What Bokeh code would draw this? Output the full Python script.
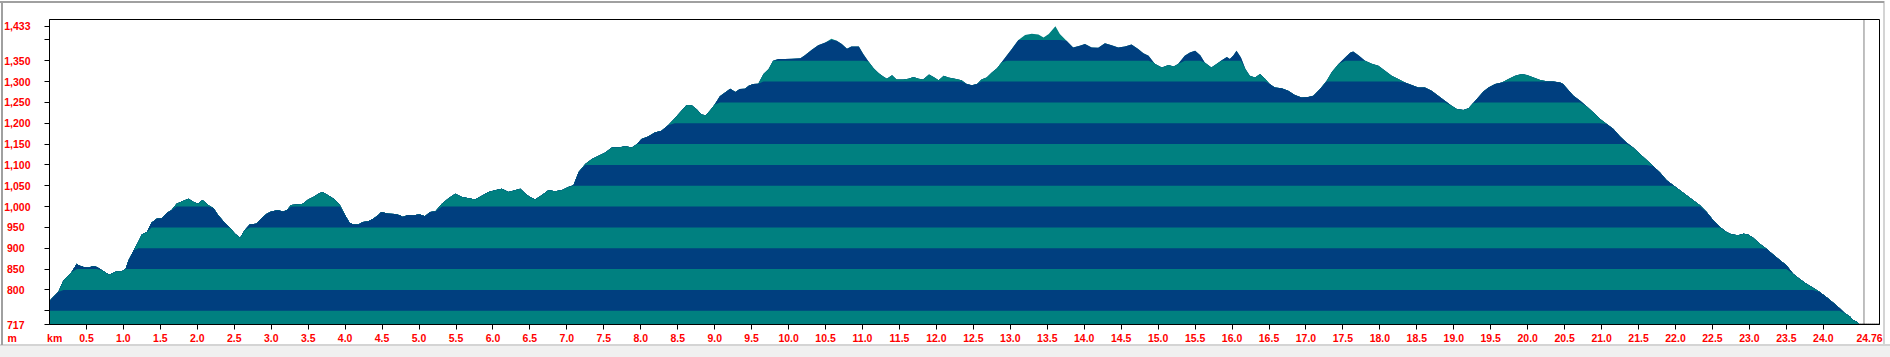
import numpy as np
from bokeh.plotting import figure
from bokeh.models import FixedTicker, Span, Range1d, LinearAxis, Title
from bokeh.embed import file_html
from bokeh.resources import INLINE

# ---------------- data ----------------
distance_km = [
    0.00, 0.03, 0.12, 0.19, 0.26, 0.30, 0.37, 0.39, 0.46, 0.53, 0.59, 0.64, 0.71, 0.80, 0.84, 0.91,
    0.98, 1.03, 1.07, 1.14, 1.20, 1.25, 1.32, 1.38, 1.45, 1.52, 1.59, 1.65, 1.72, 1.79, 1.88, 1.95,
    2.01, 2.07, 2.15, 2.22, 2.28, 2.37, 2.44, 2.51, 2.58, 2.64, 2.71, 2.80, 2.87, 2.94, 3.00, 3.09,
    3.16, 3.21, 3.27, 3.36, 3.43, 3.50, 3.57, 3.64, 3.69, 3.77, 3.86, 3.93, 4.00, 4.06, 4.11, 4.18,
    4.24, 4.31, 4.38, 4.45, 4.49, 4.58, 4.67, 4.74, 4.78, 4.85, 4.92,
    4.95, 5.01, 5.08, 5.15, 5.22, 5.31, 5.40, 5.49, 5.58, 5.67, 5.76, 5.85, 5.94, 6.03, 6.12, 6.21,
    6.30, 6.37, 6.44, 6.50, 6.57, 6.66, 6.75, 6.84, 6.93, 7.02, 7.09, 7.16, 7.25, 7.34, 7.43, 7.52,
    7.61, 7.70, 7.79, 7.88, 7.95, 8.01, 8.10, 8.19, 8.28, 8.37, 8.46, 8.55, 8.62, 8.69, 8.76, 8.82,
    8.88, 8.94, 9.00, 9.07, 9.14, 9.21, 9.28, 9.34, 9.41, 9.46, 9.52, 9.59, 9.66, 9.73, 9.79, 9.86,
    9.95, 10.04, 10.16, 10.22, 10.31, 10.40, 10.49, 10.58, 10.65, 10.72, 10.79, 10.85, 10.95, 11.01,
    11.08, 11.15, 11.22, 11.28, 11.33, 11.40, 11.46, 11.55, 11.62, 11.69, 11.76, 11.82, 11.90, 11.96,
    12.03, 12.10, 12.16, 12.25, 12.34, 12.41, 12.48, 12.55, 12.61, 12.68, 12.75, 12.82, 12.88, 12.95,
    13.02, 13.11, 13.20, 13.29, 13.38, 13.45, 13.52, 13.61, 13.67, 13.76, 13.85, 13.94, 14.01, 14.10,
    14.19, 14.28, 14.37, 14.46, 14.55, 14.64, 14.73, 14.80, 14.87, 14.94,
    14.96, 15.05, 15.14, 15.21, 15.27, 15.36, 15.43, 15.50, 15.57, 15.63, 15.72, 15.79, 15.86, 15.93,
    15.97, 16.02, 16.06, 16.12, 16.18, 16.24, 16.31, 16.38, 16.45, 16.51, 16.58, 16.67, 16.76, 16.85,
    16.94, 17.03, 17.10, 17.19, 17.28, 17.35, 17.44, 17.53, 17.60, 17.64, 17.71, 17.80, 17.89, 17.98,
    18.07, 18.16, 18.25, 18.34, 18.43, 18.52, 18.61, 18.70, 18.79, 18.88, 18.97, 19.04, 19.13, 19.20,
    19.26, 19.33, 19.40, 19.47, 19.56, 19.65, 19.74, 19.83, 19.92,
    19.99, 20.08, 20.17, 20.26, 20.35, 20.44, 20.48, 20.55, 20.62, 20.71, 20.80, 20.89, 20.98, 21.07,
    21.16, 21.25, 21.34, 21.43, 21.52, 21.61, 21.70, 21.79, 21.88, 21.97, 22.06, 22.15, 22.24, 22.33,
    22.42, 22.51, 22.60, 22.69, 22.76, 22.85, 22.92, 22.98, 23.05, 23.14, 23.23, 23.32, 23.41, 23.50,
    23.59, 23.68, 23.77, 23.86, 23.95, 24.04, 24.13, 24.22, 24.29, 24.36, 24.40, 24.45, 24.49,
]
elevation_m = [
    773, 779, 795, 823, 835, 843, 863, 859, 855, 854, 857, 855, 847, 837, 839, 845,
    845, 850, 871, 895, 915, 933, 939, 961, 971, 972, 985, 991, 1007, 1012, 1019, 1011,
    1007, 1016, 1003, 996, 980, 961, 949, 935, 925, 943, 957, 959, 972, 983, 988, 991,
    988, 991, 1004, 1005, 1007, 1017, 1023, 1031, 1035, 1027, 1017, 1003, 979, 961, 957, 957,
    963, 964, 971, 980, 987, 983, 982, 979, 975, 980, 979,
    980, 981, 977, 987, 988, 1007, 1020, 1031, 1023, 1020, 1017, 1026, 1035, 1039, 1043, 1035,
    1039, 1043, 1031, 1023, 1017, 1027, 1039, 1037, 1039, 1047, 1051, 1083, 1102, 1114, 1122, 1130,
    1142, 1142, 1145, 1142, 1150, 1162, 1168, 1178, 1182, 1195, 1212, 1230, 1244, 1243, 1233, 1221,
    1219, 1231, 1245, 1265, 1274, 1283, 1275, 1282, 1283, 1290, 1294, 1295, 1318, 1330, 1350, 1354,
    1354, 1355, 1356, 1363, 1376, 1387, 1393, 1403, 1398, 1390, 1379, 1384, 1384, 1366,
    1348, 1332, 1320, 1312, 1307, 1315, 1305, 1305, 1307, 1311, 1307, 1305, 1317, 1311,
    1303, 1314, 1310, 1307, 1303, 1294, 1291, 1294, 1305, 1310, 1322, 1332, 1346, 1362,
    1378, 1400, 1412, 1415, 1413, 1406, 1414, 1433, 1414, 1398, 1382, 1386, 1390, 1382,
    1381, 1392, 1387, 1382, 1384, 1389, 1378, 1368, 1362, 1346,
    1342, 1334, 1340, 1336, 1342, 1362, 1370, 1374, 1363, 1346, 1334, 1342, 1351, 1359,
    1354, 1363, 1374, 1358, 1330, 1314, 1310, 1318, 1306, 1294, 1286, 1284, 1278, 1268,
    1262, 1263, 1266, 1282, 1302, 1323, 1342, 1358, 1370, 1372, 1363, 1350, 1343, 1338,
    1326, 1314, 1306, 1298, 1292, 1286, 1286, 1278, 1266, 1254, 1242, 1234, 1232, 1236,
    1248, 1262, 1276, 1286, 1294, 1298, 1306, 1314, 1318,
    1316, 1310, 1304, 1301, 1300, 1298, 1294, 1280, 1266, 1254, 1240, 1226, 1210, 1198,
    1186, 1168, 1153, 1141, 1126, 1112, 1097, 1082, 1063, 1051, 1039, 1027, 1015, 1003,
    987, 967, 951, 939, 933, 931, 935, 933, 925, 911, 899, 885, 872, 859,
    839, 826, 815, 805, 795, 783, 770, 756, 744, 736, 728, 724, 717,
]
route_end_km = 24.76
marker_km = 24.55
elev_min = 717
elev_top = 1449

band_edges = [717, 750, 800, 850, 900, 950, 1000, 1050, 1100, 1150, 1200, 1250, 1300, 1350, 1400, 1450]
band_colors = ["#008080", "#003f7f"]

y_ticks = [717, 750, 800, 850, 900, 950, 1000, 1050, 1100, 1150, 1200, 1250, 1300, 1350, 1400, 1433]
y_label_values = [717, 800, 850, 900, 950, 1000, 1050, 1100, 1150, 1200, 1250, 1300, 1350, 1433]
y_label_texts = ["717", "800", "850", "900", "950", "1,000", "1,050", "1,100", "1,150",
                 "1,200", "1,250", "1,300", "1,350", "1,433"]
x_ticks = [0.5, 1.0, 1.5, 2.0, 2.5, 3.0, 3.5, 4.0, 4.5, 5.0, 5.5, 6.0, 6.5, 7.0, 7.5, 8.0,
           8.5, 9.0, 9.5, 10.0, 10.5, 11.0, 11.5, 12.0, 12.5, 13.0, 13.5, 14.0, 14.5, 15.0,
           15.5, 16.0, 16.5, 17.0, 17.5, 18.0, 18.5, 19.0, 19.5, 20.0, 20.5, 21.0, 21.5,
           22.0, 22.5, 23.0, 23.5, 24.0]
x_tick_labels = ["0.5", "1.0", "1.5", "2.0", "2.5", "3.0", "3.5", "4.0", "4.5", "5.0", "5.5",
                 "6.0", "6.5", "7.0", "7.5", "8.0", "8.5", "9.0", "9.5", "10.0", "10.5", "11.0",
                 "11.5", "12.0", "12.5", "13.0", "13.5", "14.0", "14.5", "15.0", "15.5", "16.0",
                 "16.5", "17.0", "17.5", "18.0", "18.5", "19.0", "19.5", "20.0", "20.5", "21.0",
                 "21.5", "22.0", "22.5", "23.0", "23.5", "24.0"]
x_unit_label = "km"
y_unit_label = "m"
end_label = "24.76"
# label anchor positions (km) of the unit label and the total-distance label
x_unit_pos = 0.07
end_label_pos = 24.625

# ---------------- figure ----------------
LABEL_COLOR = "#ff0000"
FONT = "Liberation Sans"
FSIZE = "10.5px"
label_style = dict(major_label_text_color=LABEL_COLOR, major_label_text_font=FONT,
                   major_label_text_font_style="bold", major_label_text_font_size=FSIZE)

p = figure(width=1890, height=357, output_backend="svg", toolbar_location=None,
           x_range=Range1d(0, route_end_km), y_range=Range1d(elev_min, elev_top),
           min_border_left=49, min_border_right=11, min_border_top=19, min_border_bottom=33)
p.background_fill_color = "white"
p.border_fill_color = "white"
p.border_fill_alpha = 0.0
p.outline_line_color = "black"
p.outline_line_width = 1
p.xgrid.visible = False
p.ygrid.visible = False

# window chrome around the chart (host element background, shows through the border area)
p.styles = {
    "background": (
        "linear-gradient(#a0a0a0,#a0a0a0) 0px 1px / 1884px 2px no-repeat, "
        "linear-gradient(#a0a0a0,#a0a0a0) 1px 1px / 2px 344px no-repeat, "
        "linear-gradient(#d4d4d4,#d4d4d4) 1883px 1px / 2px 344px no-repeat, "
        "linear-gradient(#d4d4d4,#d4d4d4) 0px 344px / 1890px 2px no-repeat, "
        "linear-gradient(#f0f0f0,#f0f0f0) 0px 346px / 1890px 11px no-repeat, "
        "#ffffff"
    )
}

x = np.array(distance_km, dtype=float)
e = np.array(elevation_m, dtype=float)
for k in reversed(range(len(band_edges) - 1)):
    top = np.minimum(e, band_edges[k + 1])
    p.varea(x=x, y1=np.full_like(x, band_edges[0]), y2=top,
            fill_color=band_colors[k % 2], fill_alpha=1.0)

# flat tail of the route
p.line(x=[distance_km[-1], route_end_km], y=[elev_min + 1.5, elev_min + 1.5],
       line_color="black", line_dash="1 1", line_width=1)
# position marker
p.add_layout(Span(location=marker_km, dimension="height", line_color="black",
                  line_dash="1 1", line_width=1))

# ---- x axis A: tick marks only
ax = p.xaxis[0]
ax.ticker = FixedTicker(ticks=x_ticks)
ax.major_label_overrides = {t: "" for t in x_ticks}
ax.major_label_text_font_size = "0px"
ax.major_label_standoff = 0
ax.minor_tick_line_color = None
ax.major_tick_out = 5
ax.major_tick_in = 0
ax.major_tick_line_color = "black"
ax.axis_line_color = "black"

# ---- x axis B: labels only
lab_ticks = [x_unit_pos] + x_ticks + [end_label_pos]
lab_texts = [x_unit_label] + x_tick_labels + [end_label]
bx = LinearAxis(ticker=FixedTicker(ticks=lab_ticks),
                major_label_overrides={t: s for t, s in zip(lab_ticks, lab_texts)},
                axis_line_color=None, major_tick_line_color=None, minor_tick_line_color=None,
                major_tick_out=0, major_tick_in=0, major_label_standoff=2, **label_style)
p.add_layout(bx, "below")

# ---- y axis A: tick marks + three-digit labels
short = {v: s for v, s in zip(y_label_values, y_label_texts) if len(s) <= 3}
long_ = {v: s for v, s in zip(y_label_values, y_label_texts) if len(s) > 3}
ay = p.yaxis[0]
ay.ticker = FixedTicker(ticks=y_ticks)
ay.major_label_overrides = {t: short.get(t, "") for t in y_ticks}
ay.minor_tick_line_color = None
ay.major_tick_out = 5
ay.major_tick_in = 0
ay.major_tick_line_color = "black"
ay.axis_line_color = "black"
ay.major_label_standoff = 20
for k_, v_ in label_style.items():
    setattr(ay, k_, v_)

# ---- y axis B: four-digit labels (left-aligned look with the short ones)
by = LinearAxis(ticker=FixedTicker(ticks=list(long_.keys())),
                major_label_overrides=long_,
                axis_line_color=None, major_tick_line_color=None, minor_tick_line_color=None,
                major_tick_out=0, major_tick_in=0, major_label_standoff=-27, **label_style)
p.add_layout(by, "left")

# ---- unit of the elevation axis
try:
    m_title = Title(text=y_unit_label, align="left", offset=-42, vertical_align="top",
                    standoff=-30, text_color=LABEL_COLOR, text_font=FONT,
                    text_font_style="bold", text_font_size=FSIZE)
except Exception:
    m_title = Title(text=y_unit_label, align="left", offset=-42, vertical_align="top",
                    standoff=0, text_color=LABEL_COLOR, text_font=FONT,
                    text_font_style="bold", text_font_size=FSIZE)
p.add_layout(m_title, "below")

open("out.html", "w").write(file_html(p, INLINE))
